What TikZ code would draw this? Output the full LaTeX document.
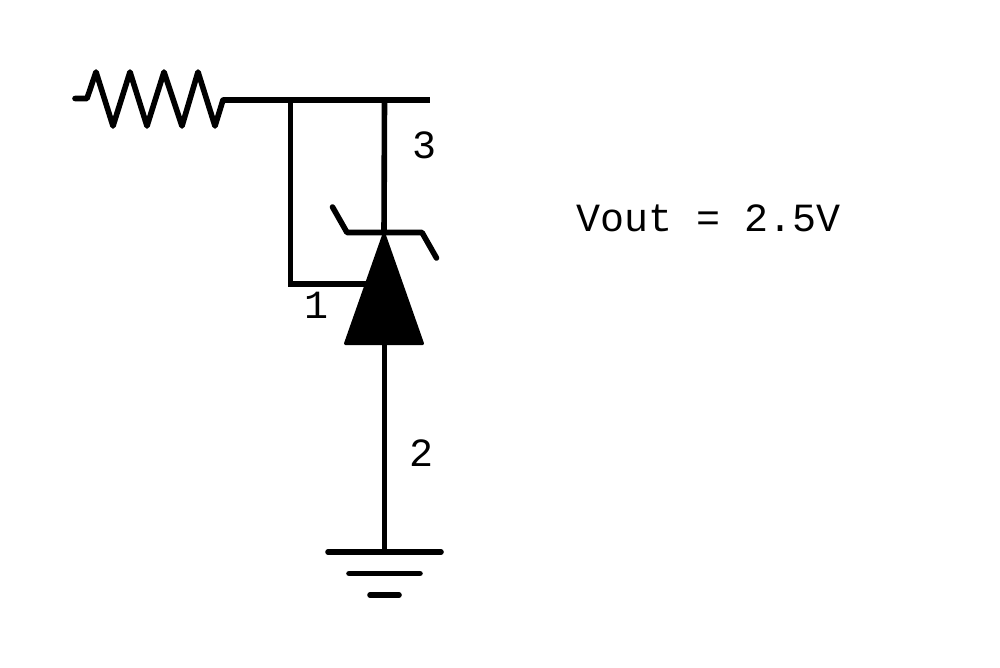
\documentclass[tikz,border=0pt]{standalone}
\usepackage{fontspec}
\setmonofont{Liberation Mono}
\usetikzlibrary{
    positioning,
    calc
}
\tikzset{
    wire/.style={line width=5.6pt, line cap=round, line join=round},
    rail/.style={line width=5.6pt, line cap=butt, line join=miter},
    lbl/.style={inner sep=0pt, font=\ttfamily\fontsize{40}{40}\selectfont}
}
\begin{document}
\begin{tikzpicture}[x=1pt, y=-1pt]
                        \useasboundingbox (0, 0) rectangle (1000, 667);
                        \coordinate (rleft) at (75, 98.5);
                        \coordinate (rright) at (223, 100);
                        \coordinate (junction) at (290.5, 100);
                        \coordinate (top) at (384.5, 100);
                        \coordinate (topend) at (430, 100);
                        \coordinate (cathode) at (384, 234);
                        \coordinate (refpin) at (290.5, 284);
                        \coordinate (refend) at (366, 284);
                        \coordinate (anode) at (384.5, 343);
                        \coordinate (gnd) at (384.5, 552);
                        % resistor
                        \draw[wire] (rleft) -- (87, 98.5) -- (96, 72) -- (113, 126) -- (130, 72) -- (147, 126)
                        -- (164, 72) -- (182, 126) -- (198, 72) -- (215, 126) -- (223, 100);
                        % top rail and pins
                        \draw[rail] (rright) -- (topend);
                        \draw[rail] (junction) -- (refpin) -- (refend);
                        \draw[rail] (top) -- (cathode);
                        \draw[rail] (anode) -- (gnd);
                        % regulator
                        \draw[wire] (332.5, 207) -- (347, 232.5) -- (422, 232.5) -- (436.5, 258);
                        \fill[draw, line width=3pt, line join=round] (cathode) -- (422.5, 343.5) -- (345.5, 343.5) -- cycle;
                        % ground
                        \draw[wire] (328, 552) -- (441, 552);
                        \draw[wire] (349, 573.5) -- (420, 573.5);
                        \draw[wire] (370, 595) -- (399, 595);
                        % labels
                        \node[lbl] (pinthree) at (424, 145) {3};
                        \node[lbl] (pinone) at (316, 305) {1};
                        \node[lbl] (pintwo) at (421, 453) {2};
                        \node[lbl] (vout) at (709, 218) {Vout = 2.5V};
                    \end{tikzpicture}
\end{document}
